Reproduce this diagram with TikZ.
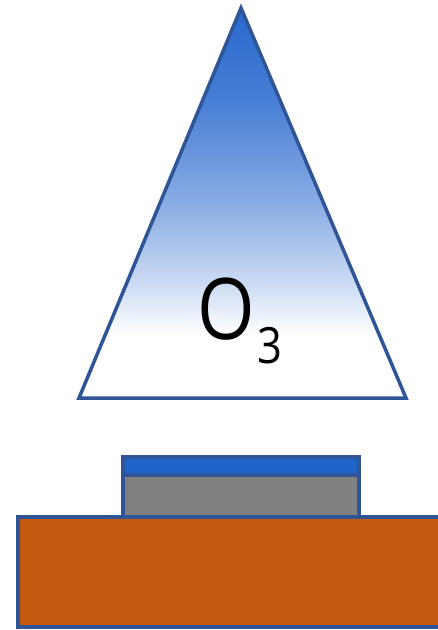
\documentclass[tikz,border=0pt]{standalone}
\usepackage{fontspec}
\setmainfont{Open Sans}
\newfontfamily\ozonefont[FakeStretch=0.87]{Open Sans}
\usetikzlibrary{positioning}
\definecolor{edgeblue}{RGB}{47,85,151}
\definecolor{ozoneblue}{RGB}{40,104,206}
\definecolor{filmblue}{RGB}{30,100,200}
\definecolor{layergray}{RGB}{128,128,128}
\definecolor{substrate}{RGB}{197,90,17}
\pgfdeclareverticalshading{ozonefade}{100bp}{color(0bp)=(white); color(33bp)=(white); color(40bp)=(ozoneblue!25); color(50bp)=(ozoneblue!55); color(63bp)=(ozoneblue!85); color(75bp)=(ozoneblue); color(100bp)=(ozoneblue)}

\begin{document}
\begin{tikzpicture}[
  x=1pt, y=-1pt,
  layer/.style={draw=edgeblue, line width=3.5pt},
  label/.style={font=\ozonefont\fontsize{85}{85}\selectfont, inner sep=0pt},
]
\useasboundingbox (0,0) rectangle (438,630);
\clip (0,0) rectangle (438,630);

% ozone cone
\shade[shading=ozonefade, draw=edgeblue, line width=3.5pt, line join=miter]
  (241,8) -- (406,398) -- (79,398) -- cycle;
\node[label, anchor=base west] (ozone) at (197,339) {O\kern3pt\raisebox{-24pt}{\fontsize{50}{50}\selectfont 3}};

% sample stack
\draw[layer, fill=substrate] (18,517) rectangle (445,627);
\draw[layer, fill=layergray] (123,475) rectangle (359,517);
\draw[layer, fill=filmblue] (123,457) rectangle (359,475);
\end{tikzpicture}
\end{document}
